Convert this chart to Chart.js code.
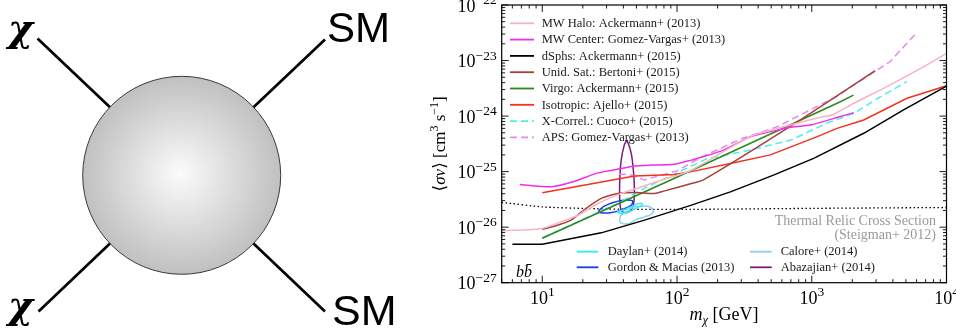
<!DOCTYPE html>
<html lang="en">
<head>
<meta charset="UTF-8" />
<title>Dark matter annihilation cross section limits</title>
<script src="https://cdn.jsdelivr.net/npm/chart.js@4"></script>
<style>
  html, body { margin: 0; padding: 0; background: #fff; }
  #wrap { position: relative; width: 956px; height: 328px; overflow: hidden; }
  #plot { position: absolute; left: 0; top: 0; }
  #diagram { position: absolute; left: 0; top: 0; }
</style>
</head>
<body>
<div id="wrap">
  <canvas id="plot" width="956" height="328"></canvas>
  <svg id="diagram" width="420" height="328" viewBox="0 0 420 328">
    <defs>
      <radialGradient id="ball" cx="0.5" cy="0.5" r="0.5" fx="0.49" fy="0.49">
        <stop offset="0" stop-color="#fbfbfb" />
        <stop offset="1" stop-color="#c0c0c0" />
      </radialGradient>
    </defs>
    <g stroke="#000" stroke-width="2.7">
      <line x1="37.5" y1="38.5" x2="181.7" y2="175.3" />
      <line x1="325" y1="39.5" x2="181.7" y2="175.3" />
      <line x1="38.5" y1="311.5" x2="181.7" y2="175.3" />
      <line x1="325" y1="311.5" x2="181.7" y2="175.3" />
    </g>
    <circle cx="181.7" cy="175.3" r="99" fill="url(#ball)" stroke="#3a3a3a" stroke-width="1" />
    <g font-family="DejaVu Serif, serif" font-weight="bold" font-style="italic" font-size="38">
      <text x="8" y="41">χ</text>
      <text x="8" y="318">χ</text>
    </g>
    <g font-family="Liberation Sans, Arial, sans-serif">
      <text x="327" y="41.7" font-size="42">SM</text>
      <text x="332" y="325" font-size="43">SM</text>
    </g>
  </svg>
</div>

<script>
  // axis ticks
  const xTicks = [10, 100, 1000, 10000];
  const yTicks = [1e-27, 1e-26, 1e-25, 1e-24, 1e-23, 1e-22];

  // limits, [m (GeV), <sigma v> (cm^3/s)]
  const mwHalo = [[5, 8.6e-27], [10, 9.5e-27], [13.8, 1.25e-26], [18.4, 1.64e-26], [25.9, 2.67e-26], [38.6, 4.05e-26], [54.3, 5.3e-26], [76.4, 7.0e-26], [128, 1.06e-25], [350, 4.3e-25], [690, 6.9e-25], [1160, 9.5e-25], [1450, 1.07e-24], [2050, 1.7e-24], [3620, 3.4e-24], [6420, 7.2e-24], [10000, 1.35e-23]];
  const mwCenter = [[6.8, 5.87e-26], [11.7, 5.32e-26], [16.9, 6.55e-26], [25.9, 9.5e-26], [38.6, 1.14e-25], [48.4, 1.26e-25], [64.4, 1.31e-25], [96, 1.36e-25], [128, 1.61e-25], [141, 1.73e-25], [222, 2.44e-25], [350, 4.23e-25], [585, 5.75e-25], [694, 6.3e-25], [977, 6.9e-25], [1630, 9.8e-25], [2050, 1.15e-24]];
  const dSphs = [[6, 4.94e-27], [10, 4.94e-27], [27.4, 7.9e-27], [57.4, 1.34e-26], [128, 2.49e-26], [249, 4.32e-26], [520, 8.65e-26], [1033, 1.73e-25], [2430, 4.9e-25], [4800, 1.29e-24], [10000, 3.47e-24]];
  const unidSat = [[10, 9.2e-27], [12.3, 1.04e-26], [16.4, 1.34e-26], [20.6, 2.08e-26], [27.4, 3.29e-26], [36.5, 4.05e-26], [48.4, 4.22e-26], [68.3, 4.05e-26], [80.9, 4.5e-26], [128, 6.1e-26], [157, 7.1e-26], [656, 6.0e-25], [2960, 6.6e-24]];
  const virgo = [[10, 6.3e-27], [89, 7.0e-26], [1630, 1.81e-24], [2040, 2.39e-24]];
  const isotropic = [[10, 4.15e-26], [48.4, 8.3e-26], [96, 8.9e-26], [128, 1.0e-25], [249, 1.4e-25], [493, 2.0e-25], [1160, 4.5e-25], [1540, 6.0e-25], [2430, 8.5e-25], [5090, 2.09e-24], [10000, 3.52e-24]];
  const xCorrel = [[10, 6.4e-27], [38, 2.8e-26], [57, 5.0e-26], [117, 1.14e-25], [166, 1.7e-25], [350, 2.45e-25], [700, 3.7e-25], [1300, 7.5e-25], [2050, 1.12e-24], [3200, 2.2e-24], [5090, 4.2e-24]];
  const aps = [[37, 9.0e-26], [44, 9.0e-26], [57, 7.1e-26], [100, 1.03e-25], [150, 1.8e-25], [300, 3.9e-25], [560, 6.5e-25], [1500, 2.2e-24], [2050, 3.6e-24], [3800, 9.5e-24], [5950, 3.1e-23]];
  const thermalRelic = [[5, 2.79e-26], [10, 2.32e-26], [20.6, 2.17e-26], [48, 2.09e-26], [128, 2.09e-26], [1000, 2.18e-26], [10000, 2.26e-26]];

  // Galactic-centre excess regions (closed contours)
  const daylan = [[36.1, 1.9e-26], [40.6, 2.06e-26], [46.6, 2.39e-26], [53.4, 2.7e-26], [55.3, 2.54e-26], [49.9, 2.2e-26], [43.5, 1.86e-26], [37.3, 1.79e-26], [36.1, 1.9e-26]];
  const gordon = [[26.1, 1.94e-26], [28.4, 2.34e-26], [33.1, 2.76e-26], [39.9, 3.06e-26], [46.6, 3.0e-26], [45.8, 2.49e-26], [39.3, 2.07e-26], [32.0, 1.82e-26], [27.0, 1.82e-26], [26.1, 1.94e-26]];
  const calore = [[48.4, 2.32e-26], [60.9, 2.39e-26], [66.4, 2.02e-26], [64.4, 1.71e-26], [57.4, 1.53e-26], [49.9, 1.38e-26], [44.4, 1.17e-26], [39.0, 1.17e-26], [37.5, 1.34e-26], [38.5, 1.64e-26], [42.0, 1.89e-26], [45.8, 2.17e-26], [48.4, 2.32e-26]];
  const abazajian = [[42.5, 3.7e-25], [45, 2.5e-25], [46.6, 1.6e-25], [48.2, 5.7e-26], [47.4, 2.5e-26], [43.5, 1.87e-26], [38.9, 1.94e-26], [37.6, 3.1e-26], [37.6, 7.0e-26], [38.5, 1.6e-25], [40.6, 3.0e-25], [42.5, 3.7e-25]];

  const topLegend = ['MW Halo: Ackermann+ (2013)', 'MW Center: Gomez-Vargas+ (2013)', 'dSphs: Ackermann+ (2015)', 'Unid. Sat.: Bertoni+ (2015)', 'Virgo: Ackermann+ (2015)', 'Isotropic: Ajello+ (2015)', 'X-Correl.: Cuoco+ (2015)', 'APS: Gomez-Vargas+ (2013)'];
  const gceLegend = ['Daylan+ (2014)', 'Calore+ (2014)', 'Gordon & Macias (2013)', 'Abazajian+ (2014)'];

  const SERIF = '"Liberation Serif", "DejaVu Serif", serif';

  function series(label, pts, color, extra) {
    return Object.assign({
      label: label,
      data: pts.map(p => ({ x: p[0], y: p[1] })),
      borderColor: color,
      backgroundColor: color,
      borderWidth: 1.5,
      pointRadius: 0,
      showLine: true,
      fill: false,
      tension: 0
    }, extra || {});
  }

  const datasets = [
    series(topLegend[0], mwHalo, '#f6b4c0', { tension: 0.2 }),
    series(topLegend[1], mwCenter, '#f02ef0', { tension: 0.2 }),
    series(topLegend[2], dSphs, '#000000'),
    series(topLegend[3], unidSat, '#a5403c', { tension: 0.2 }),
    series(topLegend[4], virgo, '#2a8a1e'),
    series(topLegend[5], isotropic, '#f2321e'),
    series(topLegend[6], xCorrel, '#4deeee', { borderDash: [7, 4] }),
    series(topLegend[7], aps, '#e58ae8', { borderDash: [7, 4] }),
    series(gceLegend[0], daylan, '#30eeee', { tension: 0.35 }),
    series(gceLegend[1], calore, '#8ccdf2', { tension: 0.35 }),
    series(gceLegend[2], gordon, '#1a3cf0', { tension: 0.35 }),
    series(gceLegend[3], abazajian, '#7d1a82', { tension: 0.35 }),
    series('Thermal Relic Cross Section', thermalRelic, '#000000', { borderWidth: 1.3, borderDash: [1.5, 2.5], tension: 0.2 })
  ];

  // draw a line of text made of pieces with their own font and vertical shift
  function runs(ctx, parts, x, y, align) {
    let w = 0;
    parts.forEach(p => { ctx.font = p[1]; w += ctx.measureText(p[0]).width; });
    let cx = align === 'center' ? x - w / 2 : (align === 'right' ? x - w : x);
    ctx.textAlign = 'left';
    ctx.textBaseline = 'alphabetic';
    parts.forEach(p => {
      ctx.font = p[1];
      ctx.fillText(p[0], cx, y + (p[2] || 0));
      cx += ctx.measureText(p[0]).width;
    });
  }

  function powerParts(v) {
    const e = Math.round(Math.log10(v));
    return [['10', '18px ' + SERIF, 0], [(e < 0 ? '\u2212' + (-e) : String(e)), '13.5px ' + SERIF, -7.5]];
  }

  function legendLine(ctx, ds, x0, x1, y) {
    ctx.save();
    ctx.strokeStyle = ds.borderColor;
    ctx.lineWidth = 1.8;
    ctx.setLineDash(ds.borderDash || []);
    ctx.beginPath();
    ctx.moveTo(x0, y);
    ctx.lineTo(x1, y);
    ctx.stroke();
    ctx.restore();
  }

  const decor = {
    id: 'decor',
    afterDatasetsDraw(chart) {
      const { ctx, chartArea: a, scales } = chart;
      const xs = scales.x, ys = scales.y;
      ctx.save();

      // frame
      ctx.strokeStyle = '#000';
      ctx.lineWidth = 1.2;
      ctx.strokeRect(a.left, a.top, a.right - a.left, a.bottom - a.top);

      // inward ticks on all four sides
      ctx.lineWidth = 0.9;
      ctx.beginPath();
      for (let d = 0; d <= 4; d++) {
        for (let m = 1; m <= 9; m++) {
          const v = m * Math.pow(10, d);
          if (v < 5 || v > 10000) continue;
          const px = xs.getPixelForValue(v);
          const len = m === 1 ? 7 : 3.5;
          ctx.moveTo(px, a.bottom); ctx.lineTo(px, a.bottom - len);
          ctx.moveTo(px, a.top); ctx.lineTo(px, a.top + len);
        }
      }
      for (let d = -27; d <= -22; d++) {
        for (let m = 1; m <= 9; m++) {
          const v = m * Math.pow(10, d);
          if (v > 1.0001e-22) continue;
          const py = ys.getPixelForValue(v);
          const len = m === 1 ? 7 : 3.5;
          ctx.moveTo(a.left, py); ctx.lineTo(a.left + len, py);
          ctx.moveTo(a.right, py); ctx.lineTo(a.right - len, py);
        }
      }
      ctx.stroke();

      // tick labels
      ctx.fillStyle = '#000';
      yTicks.forEach(v => runs(ctx, powerParts(v), a.left - 5, ys.getPixelForValue(v) + 6.5, 'right'));
      xTicks.forEach(v => runs(ctx, powerParts(v), xs.getPixelForValue(v), a.bottom + 21, 'center'));

      // axis titles
      runs(ctx, [['m', 'italic 18px ' + SERIF], ['\u03c7', 'italic 12.5px ' + SERIF, 4], [' [GeV]', '18px ' + SERIF]], (a.left + a.right) / 2, 320, 'center');
      ctx.save();
      ctx.translate(445, (a.top + a.bottom) / 2);
      ctx.rotate(-Math.PI / 2);
      runs(ctx, [['\u27e8', '17px ' + SERIF], ['\u03c3v', 'italic 17px ' + SERIF], ['\u27e9 [cm', '17px ' + SERIF], ['3', '12px ' + SERIF, -7], [' s', '17px ' + SERIF], ['\u22121', '12px ' + SERIF, -7], [']', '17px ' + SERIF]], 0, 0, 'center');
      ctx.restore();

      // annotations
      ctx.fillStyle = '#9a9a9a';
      runs(ctx, [['Thermal Relic Cross Section', '14px ' + SERIF]], 936, 224.5, 'right');
      runs(ctx, [['(Steigman+ 2012)', '14px ' + SERIF]], 936, 239, 'right');
      ctx.fillStyle = '#000';
      runs(ctx, [['bb\u0304', 'italic 16px ' + SERIF]], 516, 276.5, 'left');

      // legends
      const ds = chart.data.datasets;
      ctx.fillStyle = '#1a1a1a';
      ctx.font = '12.5px ' + SERIF;
      ctx.textAlign = 'left';
      ctx.textBaseline = 'middle';
      topLegend.forEach((label, i) => {
        const y = 23.3 + i * 16.3;
        legendLine(ctx, ds[i], 510, 534, y);
        ctx.fillText(label, 541.7, y + 0.5);
      });
      const cols = [[576.7, 598.3, 607.7], [750, 771.7, 780.7]];
      const rows = [251.7, 267.3];
      gceLegend.forEach((label, i) => {
        const c = cols[i % 2], y = rows[Math.floor(i / 2)];
        legendLine(ctx, ds[8 + i], c[0], c[1], y);
        ctx.fillText(label, c[2], y + 0.5);
      });

      ctx.restore();
    }
  };

  new Chart(document.getElementById('plot').getContext('2d'), {
    type: 'scatter',
    data: { datasets: datasets },
    options: {
      responsive: false,
      animation: false,
      events: [],
      layout: { padding: { left: 501.7, right: 9.5, top: 5, bottom: 45.3 } },
      scales: {
        x: {
          type: 'logarithmic', min: 5, max: 10000,
          ticks: { display: false },
          grid: { display: false, drawTicks: false },
          border: { display: false }
        },
        y: {
          type: 'logarithmic', min: 1e-27, max: 1e-22,
          ticks: { display: false },
          grid: { display: false, drawTicks: false },
          border: { display: false }
        }
      },
      plugins: { legend: { display: false }, tooltip: { enabled: false } }
    },
    plugins: [decor]
  });
</script>
</body>
</html>
